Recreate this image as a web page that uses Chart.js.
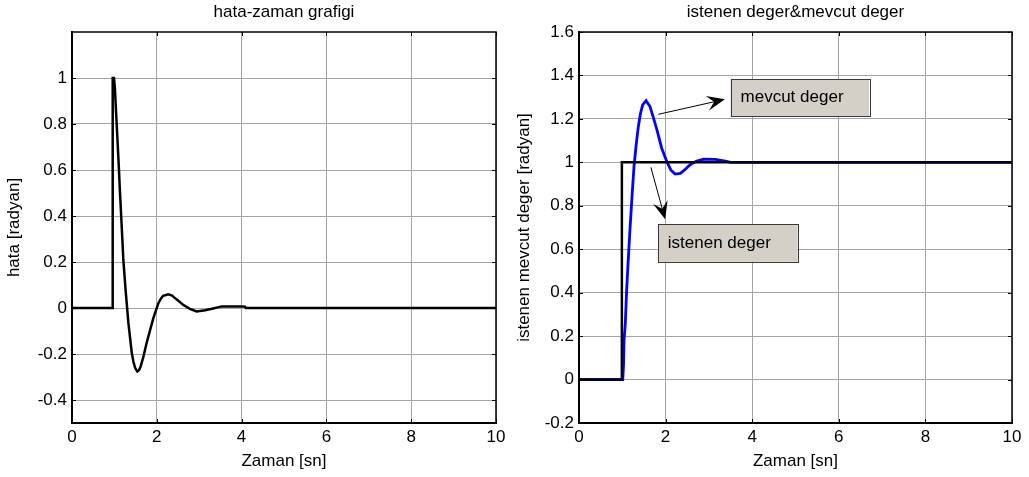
<!DOCTYPE html>
<html>
<head>
<meta charset="utf-8">
<script src="https://cdn.jsdelivr.net/npm/chart.js@4.4.1/dist/chart.umd.min.js"></script>
<style>
  html, body { margin: 0; padding: 0; background: #fff; }
  #wrap { position: relative; width: 1029px; height: 477px; }
  .kutu { position: absolute; top: 0; height: 477px; }
  #hataKutu { left: 0; width: 510px; }
  #degerKutu { left: 510px; width: 519px; }
</style>
</head>
<body>
<div id="wrap">
  <div class="kutu" id="hataKutu"><canvas id="hataChart" width="510" height="477"></canvas></div>
  <div class="kutu" id="degerKutu"><canvas id="degerChart" width="519" height="477"></canvas></div>
</div>
<script>
// eksen tikleri
const zamanTikleri = [0, 2, 4, 6, 8, 10];
const hataTikleri = [-0.4, -0.2, 0, 0.2, 0.4, 0.6, 0.8, 1];
const degerTikleri = [-0.2, 0, 0.2, 0.4, 0.6, 0.8, 1, 1.2, 1.4, 1.6];

// hata sinyali
const hataT = [0, 0.96, 0.96, 0.99, 1.01, 1.04, 1.07, 1.10, 1.13, 1.16, 1.19, 1.21, 1.27, 1.33, 1.41, 1.45, 1.49, 1.54, 1.58,
  1.62, 1.68, 1.76, 1.92, 2.04, 2.1, 2.15, 2.27, 2.35, 2.43, 2.62, 2.78, 2.94, 3.14, 3.33, 3.53, 3.96, 4.08, 4.1, 10];
const hataE = [0, 0, 1.0, 1.0, 0.96, 0.85, 0.74, 0.63, 0.51, 0.40, 0.29, 0.21, 0.065, -0.065, -0.196, -0.235, -0.261, -0.276, -0.27,
  -0.254, -0.215, -0.152, -0.043, 0.022, 0.042, 0.053, 0.06, 0.055, 0.043, 0.014, -0.004, -0.015, -0.01, -0.002, 0.007, 0.007, 0.006, 0, 0];

// istenen deger (basamak giris)
const istenenT = [0, 0.99, 0.99, 10];
const istenenY = [0, 0, 1, 1];

// mevcut deger (sistem cikisi)
const mevcutT = [0, 1.01, 1.03, 1.04, 1.07, 1.10, 1.14, 1.18, 1.23, 1.27, 1.32, 1.37, 1.42, 1.47, 1.55, 1.64, 1.72, 1.80,
  1.91, 2.03, 2.12, 2.22, 2.34, 2.44, 2.53, 2.62, 2.72, 2.88, 3.15, 3.38, 3.5, 10];
const mevcutY = [0, 0, 0.075, 0.18, 0.26, 0.41, 0.56, 0.70, 0.86, 0.98, 1.08, 1.164, 1.225, 1.264, 1.284, 1.257, 1.205, 1.149,
  1.065, 1.003, 0.965, 0.946, 0.949, 0.965, 0.983, 0.996, 1.006, 1.015, 1.014, 1.005, 1.0, 1.0];

const yazi = "'Liberation Sans', Arial, sans-serif";

function noktalar(ts, vs) {
  return ts.map((t, i) => ({x: t, y: vs[i]}));
}

// ust ve sag cerceve + iceri bakan kisa tikler
const cerceve = {
  id: 'cerceve',
  afterDatasetsDraw(chart) {
    const {ctx, chartArea: a, scales: {x, y}} = chart;
    ctx.save();
    ctx.strokeStyle = '#000';
    ctx.lineWidth = 1.5;
    ctx.beginPath();
    ctx.moveTo(a.left, a.top);
    ctx.lineTo(a.right, a.top);
    ctx.lineTo(a.right, a.bottom);
    ctx.stroke();
    ctx.lineWidth = 1;
    ctx.beginPath();
    x.ticks.forEach(t => {
      const px = Math.round(x.getPixelForValue(t.value)) + 0.5;
      ctx.moveTo(px, a.bottom); ctx.lineTo(px, a.bottom - 4);
      ctx.moveTo(px, a.top); ctx.lineTo(px, a.top + 4);
    });
    y.ticks.forEach(t => {
      const py = Math.round(y.getPixelForValue(t.value)) + 0.5;
      ctx.moveTo(a.left, py); ctx.lineTo(a.left + 4, py);
      ctx.moveTo(a.right, py); ctx.lineTo(a.right - 4, py);
    });
    ctx.stroke();
    ctx.restore();
  }
};

// ok isaretli aciklama kutulari (veri koordinatlarinda)
const notlar = [
  {text: 'mevcut deger', kutu: [3.5, 1.384, 6.7, 1.212], bas: [1.83, 1.221], uc: [3.37, 1.29]},
  {text: 'istenen deger', kutu: [1.82, 0.716, 5.05, 0.542], bas: [1.66, 0.977], uc: [1.99, 0.738]}
];

function okCiz(ctx, x1, y1, x2, y2) {
  const a = Math.atan2(y2 - y1, x2 - x1);
  const c = Math.cos(a), s = Math.sin(a);
  const L = 18, W = 7.5, N = 11;
  ctx.beginPath();
  ctx.moveTo(x1, y1);
  ctx.lineTo(x2 - N * c, y2 - N * s);
  ctx.stroke();
  ctx.beginPath();
  ctx.moveTo(x2, y2);
  ctx.lineTo(x2 - L * c + W * s, y2 - L * s - W * c);
  ctx.lineTo(x2 - N * c, y2 - N * s);
  ctx.lineTo(x2 - L * c - W * s, y2 - L * s + W * c);
  ctx.closePath();
  ctx.fill();
}

const aciklamalar = {
  id: 'aciklamalar',
  afterDraw(chart) {
    const {ctx, scales: {x, y}} = chart;
    ctx.save();
    notlar.forEach(n => {
      const x1 = x.getPixelForValue(n.kutu[0]), y1 = y.getPixelForValue(n.kutu[1]);
      const x2 = x.getPixelForValue(n.kutu[2]), y2 = y.getPixelForValue(n.kutu[3]);
      ctx.fillStyle = '#d4d0c8';
      ctx.fillRect(x1, y1, x2 - x1, y2 - y1);
      ctx.strokeStyle = '#3a3a3a';
      ctx.lineWidth = 1;
      ctx.strokeRect(Math.round(x1) + 0.5, Math.round(y1) + 0.5, Math.round(x2 - x1), Math.round(y2 - y1));
      ctx.fillStyle = '#000';
      ctx.font = '17px ' + yazi;
      ctx.textBaseline = 'middle';
      ctx.fillText(n.text, x1 + 10, (y1 + y2) / 2);
      ctx.strokeStyle = '#000';
      okCiz(ctx, x.getPixelForValue(n.bas[0]), y.getPixelForValue(n.bas[1]),
        x.getPixelForValue(n.uc[0]), y.getPixelForValue(n.uc[1]));
    });
    ctx.restore();
  }
};

function ayarlar(datasets, baslik, yMin, yMax, yTikleri, yBaslik, solGenislik, sagBosluk, eklentiler) {
  return {
    type: 'line',
    data: {datasets: datasets},
    plugins: eklentiler,
    options: {
      responsive: false,
      animation: false,
      layout: {padding: {left: 0, right: sagBosluk, top: 0, bottom: 0}},
      plugins: {
        legend: {display: false},
        tooltip: {enabled: false},
        title: {
          display: true,
          text: baslik,
          color: '#000',
          fullSize: false,
          font: {family: yazi, size: 17, weight: 'normal'},
          padding: {top: 2, bottom: 9.6}
        }
      },
      scales: {
        x: {
          type: 'linear',
          min: 0,
          max: 10,
          afterBuildTicks: s => { s.ticks = zamanTikleri.map(v => ({value: v})); },
          afterFit: s => { s.height = 54; },
          grid: {color: '#a4a4a4', lineWidth: 1, drawTicks: false},
          border: {display: true, color: '#000', width: 2},
          ticks: {color: '#000', padding: 4, font: {family: yazi, size: 17}, maxRotation: 0,
            callback: v => String(v)},
          title: {display: true, text: 'Zaman [sn]', color: '#000',
            font: {family: yazi, size: 17}, padding: {top: 0, bottom: 5}}
        },
        y: {
          type: 'linear',
          min: yMin,
          max: yMax,
          afterBuildTicks: s => { s.ticks = yTikleri.map(v => ({value: v})); },
          afterFit: s => { s.width = solGenislik; },
          grid: {color: '#a4a4a4', lineWidth: 1, drawTicks: false},
          border: {display: true, color: '#000', width: 2},
          ticks: {color: '#000', padding: 5, font: {family: yazi, size: 17},
            callback: v => String(Math.round(v * 10) / 10)},
          title: {display: true, text: yBaslik, color: '#000',
            font: {family: yazi, size: 17}, padding: {top: 4, bottom: 0}}
        }
      }
    }
  };
}

new Chart(document.getElementById('hataChart'), ayarlar([
  {data: noktalar(hataT, hataE), borderColor: '#000', borderWidth: 2.5, pointRadius: 0, tension: 0}
], 'hata-zaman grafigi', -0.5, 1.2, hataTikleri, 'hata [radyan]', 72, 14, [cerceve]));

// siyah basamak, mavi cikisin ustunde cizilir
new Chart(document.getElementById('degerChart'), ayarlar([
  {data: noktalar(istenenT, istenenY), borderColor: '#000', borderWidth: 2.5, pointRadius: 0, tension: 0},
  {data: noktalar(mevcutT, mevcutY), borderColor: '#0000ff', borderWidth: 2.8, pointRadius: 0, tension: 0}
], 'istenen deger&mevcut deger', -0.2, 1.6, degerTikleri, 'istenen mevcut deger [radyan]', 69, 17, [cerceve, aciklamalar]));
</script>
</body>
</html>
